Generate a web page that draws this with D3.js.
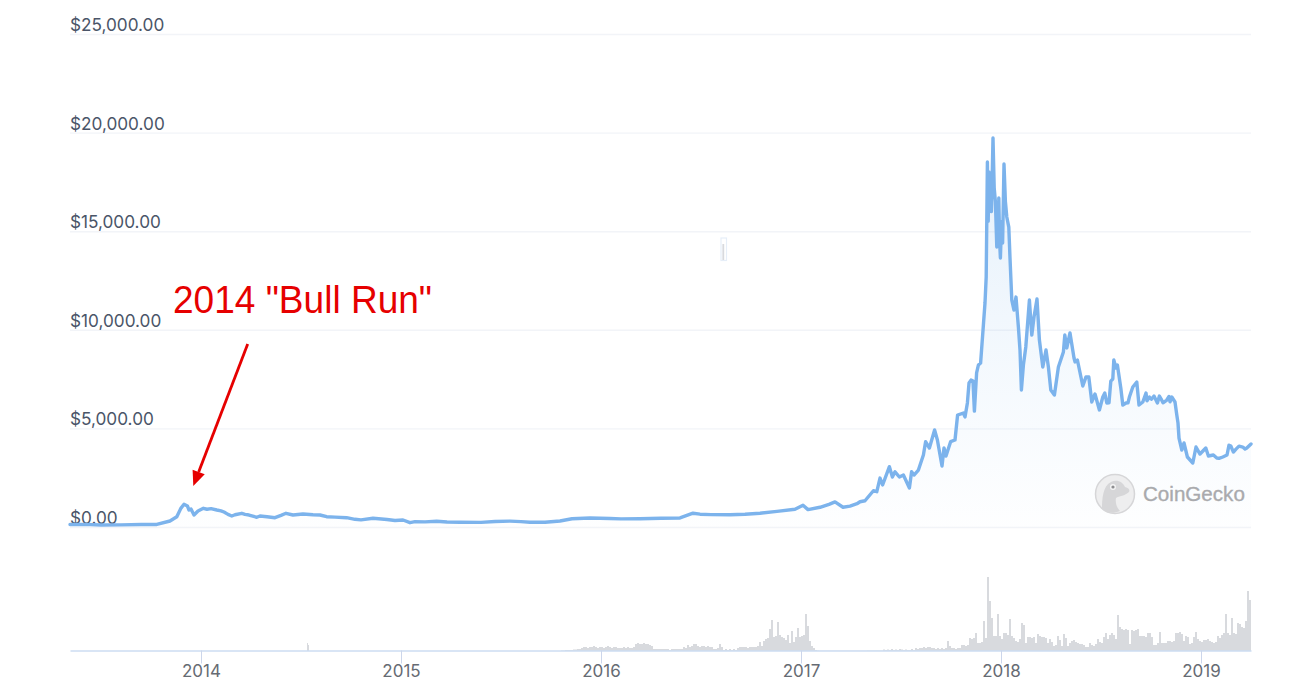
<!DOCTYPE html>
<html>
<head>
<meta charset="utf-8">
<script src="https://cdn.jsdelivr.net/npm/d3@7/dist/d3.min.js"></script>
<style>
html,body{margin:0;padding:0;background:#fff;overflow:hidden}
svg{display:block}
</style>
</head>
<body>
<svg id="chart" width="1296" height="693"></svg>
<script>
const priceYears = [2013.345,2013.6,2013.779,2013.845,2013.879,2013.9,2013.915,2013.932,2013.94,2013.95,2013.965,2013.985,2014.012,2014.079,2014.115,2014.154,2014.204,2014.24,2014.279,2014.295,2014.37,2014.425,2014.46,2014.51,2014.595,2014.628,2014.728,2014.77,2014.86,2015.01,2015.045,2015.07,2015.178,2015.295,2015.545,2015.645,2015.795,2015.855,2015.945,2016.045,2016.195,2016.395,2016.46,2016.495,2016.645,2016.795,2016.97,2017.01,2017.035,2017.095,2017.17,2017.21,2017.245,2017.295,2017.32,2017.362,2017.379,2017.395,2017.408,2017.442,2017.457,2017.47,2017.492,2017.512,2017.542,2017.553,2017.565,2017.587,2017.612,2017.623,2017.642,2017.668,2017.682,2017.705,2017.715,2017.725,2017.748,2017.77,2017.783,2017.812,2017.82,2017.832,2017.84,2017.85,2017.86,2017.867,2017.878,2017.887,2017.898,2017.912,2017.92,2017.926,2017.932,2017.945,2017.96,2017.979,2017.989,2017.997,2018.015,2018.029,2018.039,2018.045,2018.054,2018.065,2018.075,2018.087,2018.095,2018.102,2018.112,2018.124,2018.142,2018.154,2018.165,2018.18,2018.192,2018.209,2018.225,2018.237,2018.249,2018.267,2018.287,2018.312,2018.319,2018.329,2018.345,2018.365,2018.37,2018.382,2018.409,2018.425,2018.439,2018.454,2018.47,2018.492,2018.509,2018.519,2018.529,2018.54,2018.549,2018.559,2018.564,2018.575,2018.582,2018.599,2018.609,2018.625,2018.642,2018.659,2018.679,2018.69,2018.709,2018.725,2018.742,2018.765,2018.782,2018.792,2018.829,2018.854,2018.87,2018.879,2018.885,2018.89,2018.904,2018.915,2018.932,2018.959,2018.975,2018.995,2019.024,2019.037,2019.062,2019.079,2019.109,2019.149,2019.162,2019.209,2019.229,2019.25];
const priceValues = [125,110,130,304,522,960,1151,1065,862,913,608,811,948,862,760,558,695,608,492,558,472,695,608,659,608,522,472,390,441,355,218,269,290,240,300,240,304,416,460,430,420,460,700,650,620,700,900,1100,880,1000,1270,1000,1060,1280,1330,1840,1790,2480,2130,3060,2535,2800,2535,2635,1980,2800,2635,2890,3650,4325,4005,4920,4410,3095,4005,3600,4325,4410,5680,5780,5580,6290,7300,7450,7400,5880,7810,8215,8315,10245,11360,12680,18510,16785,19730,14200,16685,13640,18410,15720,15210,13640,11510,11000,11660,10140,8975,6950,8215,9130,11510,9735,10650,11560,9480,8115,8975,8115,6950,6690,8115,8875,9735,9080,9840,8570,8370,8470,7150,7610,7610,6340,6745,5935,6590,6795,6290,6300,7400,7505,8470,8060,8215,7050,6185,6290,6590,7100,7350,6185,6340,6795,6590,6640,6290,6640,6440,6590,6340,5680,5270,4510,3905,4260,3550,3245,4055,3700,4005,3600,3650,3500,3550,4105,3800,4055,4005,4210];
const detailYears = [2013.42,2013.5,2013.7,2014.03,2014.05,2014.1,2014.135,2014.17,2014.22,2014.33,2014.4,2014.56,2014.67,2014.8,2014.93,2014.97,2015.12,2015.23,2015.4,2015.47,2015.6,2015.72,2016.1,2016.3,2016.55,2016.72,2016.88,2017.14,2017.28,2017.936,2017.94,2017.952,2017.956,2017.966,2017.972,2017.984,2017.987,2017.993,2018.003,2018.008,2018.022,2018.635,2018.73,2018.752,2018.8,2018.81,2018.84,2018.845,2019.09,2019.13,2019.14,2019.175,2019.19,2019.22];
const detailValues = [135,100,125,900,930,820,640,620,640,520,590,620,500,360,380,330,260,250,235,280,270,240,410,440,630,650,790,1150,1180,15500,18000,16000,17800,17200,16500,16000,14800,14500,15500,14400,16500,6300,6400,6480,6500,6300,6620,6350,3480,3650,4150,3950,4100,3950];

const earlyVolumeYears = [2014.53,2014.535];
const earlyVolumeValues = [8,6];
const volumeStartYear = 2015.8;
const volumeStepYears = 0.01;
const volumeValues = [
.5,.5,1,1,1,1,1.5,1.5,2,2,
3,4,4,3,4,4,5,4,3,4,
4,3,4,5,4,3,4,4,3,3,
3,4,3,4,3,3,4,7,8,7,
7,8,7,7,6,5,2,2,2,2,
2,2,2,2,1,2,2,2,2,2,
2,4,3,6,4,5,7,7,5,4,
5,5,4,5,4,4,2,2,3,7,
4,1,2,1,2,1,2,1,3,4,
4,4,4,3,4,4,4,4,5,9,
5,10,12,13,22,31,14,15,29,16,
14,13,11,16,8,20,9,14,23,14,
15,16,37,25,10,5,3,1,.5,.3,
.3,.3,.3,.3,.3,.3,.3,.3,.3,.3,
.3,.3,.3,.3,.3,.3,.3,.3,.3,.3,
.3,.3,.3,.5,.5,.5,.5,.5,.5,.5,
.5,1.5,1,1.5,1,2,1,1.5,1,2,
1.5,1,1.5,1,1,2,1,3,2,3,
3,4,3,4,4,3,3,2,3,2,
3,2,3,10,5,3,3,2,3,3,
6,6,5,6,13,12,13,18,8,8,
9,30,13,74,50,33,15,15,37,15,
12,18,18,16,32,15,13,10,9,12,
28,26,8,14,14,13,14,8,17,15,
14,14,13,8,12,9,5,6,15,11,
5,17,13,5,8,10,11,9,8,7,
7,6,4,4,8,6,5,7,12,9,
8,14,18,12,16,18,16,12,36,24,
22,21,22,21,7,21,20,21,22,15,
15,15,14,18,18,14,6,6,8,19,
8,8,8,10,10,9,10,18,18,19,
17,10,15,14,7,8,14,19,12,10,
9,11,11,12,10,9,8,9,15,13,
16,18,37,18,16,33,18,17,28,27,
24,23,30,60,51];

const priceTicks = [0,5000,10000,15000,20000,25000];
const yearTicks = [2014,2015,2016,2017,2018,2019];
const annotationText = '2014 "Bull Run"';
const arrowFrom = [2014.2335, 9280];
const arrowTo = [2013.9615, 2079];
const logoText = "CoinGecko";

const svg = d3.select("#chart");
const x = d3.scaleLinear().domain([2013.345,2019.25]).range([70,1251]);
const y = d3.scaleLinear().domain([0,25000]).range([527,34]);
const v = d3.scaleLinear().domain([0,76]).range([651,575]);
const sans = "'Liberation Sans',Arial,sans-serif";
const ui = "Inter,'Liberation Sans',sans-serif";

const defs = svg.append("defs");
const grad = defs.append("linearGradient").attr("id","areaFill")
  .attr("gradientUnits","userSpaceOnUse").attr("x1",0).attr("x2",0).attr("y1",y(19730)).attr("y2",y(0));
grad.append("stop").attr("offset",0).attr("stop-color","#7cb5ec").attr("stop-opacity",.2);
grad.append("stop").attr("offset",.6).attr("stop-color","#7cb5ec").attr("stop-opacity",.08);
grad.append("stop").attr("offset",1).attr("stop-color","#7cb5ec").attr("stop-opacity",.01);

const yAxis = d3.axisRight(y).tickValues(priceTicks).tickSize(1181)
  .tickFormat(d=>"$"+d3.format(",.2f")(d));
const gy = svg.append("g").attr("transform","translate(70,0)").call(yAxis);
gy.select(".domain").remove();
gy.selectAll("line").attr("stroke","#f2f4f8").attr("stroke-width",1.4);
gy.selectAll("text").attr("x",0).attr("dy",null).attr("y",-3.5)
  .attr("text-anchor","start").attr("fill","#4a5568")
  .style("font-family",ui).style("font-size","17.2px");

const price = priceYears.map((t,i)=>({t,p:priceValues[i]}))
  .concat(detailYears.map((t,i)=>({t,p:detailValues[i]})))
  .sort((a,b)=>a.t-b.t);
svg.append("path").datum(price).attr("fill","url(#areaFill)")
  .attr("d",d3.area().x(d=>x(d.t)).y0(y(0)).y1(d=>y(d.p)));

const volume = earlyVolumeYears.map((t,i)=>({t,w:0.005,val:earlyVolumeValues[i]}))
  .concat(volumeValues.map((val,i)=>({t:volumeStartYear+i*volumeStepYears,w:volumeStepYears,val})));
svg.append("g").selectAll("rect").data(volume).join("rect")
  .attr("x",d=>x(d.t)).attr("width",d=>x(d.t+d.w)-x(d.t))
  .attr("y",d=>v(d.val)).attr("height",d=>v(0)-v(d.val))
  .attr("fill","#d8dade");

const xAxis = d3.axisBottom(x).tickValues(yearTicks).tickSize(13).tickSizeOuter(0).tickFormat(d3.format("d"));
const gx = svg.append("g").attr("transform","translate(0,650.5)").call(xAxis);
gx.select(".domain").attr("stroke","#ccdcf2").attr("stroke-width",1.6);
gx.selectAll("line").attr("stroke","#ccd6eb");
gx.selectAll("text").attr("y",21.5).attr("dy","0.32em").attr("fill","#666b73")
  .style("font-family",ui).style("font-size","17px");

svg.append("path").datum(price).attr("fill","none").attr("stroke","#7cb3ec")
  .attr("stroke-width",3.4).attr("stroke-linejoin","round").attr("stroke-linecap","round")
  .attr("d",d3.line().x(d=>x(d.t)).y(d=>y(d.p)));

// small selection marker in the middle of the plot
const marker = svg.append("g");
marker.append("rect").attr("x",x(2016.6)).attr("y",y(14655)).attr("width",5.5).attr("height",22.5)
  .attr("fill","#fff").attr("stroke","#e6eef8").attr("stroke-width",1.2);
marker.append("rect").attr("x",x(2016.607)).attr("y",y(14350)).attr("width",1.8).attr("height",16)
  .attr("fill","#d8dade");

// watermark
const logo = svg.append("g").attr("transform","translate(1115,494)");
logo.append("circle").attr("r",19.5).attr("fill","#eeeeef").attr("stroke","#d6d6d8").attr("stroke-width",1.5);
logo.append("path").attr("d","M-13,15 C-13,4 -12,-8 -4,-12 C2,-15 8,-12 10,-7 C14,-6 15,-4 14,-2 C10,2 4,2 1,4 C0,9 2,14 5,17 C-2,20 -9,19 -13,15 Z")
  .attr("fill","#d6d6d8");
logo.append("circle").attr("cx",-2).attr("cy",-7).attr("r",3).attr("fill","#f4f4f4");
logo.append("circle").attr("cx",-2).attr("cy",-7).attr("r",1.6).attr("fill","#8d8d90");
svg.append("text").attr("x",1143).attr("y",500.5).text(logoText)
  .attr("fill","#a9aaad").attr("stroke","#a9aaad").attr("stroke-width",.35)
  .style("font-family",sans).style("font-size","20.6px");

// annotation
const red = "#e60000";
svg.append("text").attr("x",173).attr("y",313).text(annotationText)
  .attr("fill",red).attr("textLength",259).attr("lengthAdjust","spacingAndGlyphs")
  .style("font-family",sans).style("font-size","38px");
const ax0 = x(arrowFrom[0]), ay0 = y(arrowFrom[1]), ax1 = x(arrowTo[0]), ay1 = y(arrowTo[1]);
const ang = Math.atan2(ay1-ay0,ax1-ax0), hl = 15, hw = 6.5;
const bx = ax1-hl*Math.cos(ang), by = ay1-hl*Math.sin(ang);
svg.append("line").attr("x1",ax0).attr("y1",ay0).attr("x2",bx).attr("y2",by)
  .attr("stroke",red).attr("stroke-width",2.8);
svg.append("polygon").attr("fill",red).attr("points",[
  [ax1,ay1],
  [bx-hw*Math.sin(ang),by+hw*Math.cos(ang)],
  [bx+hw*Math.sin(ang),by-hw*Math.cos(ang)]
].map(p=>p.join(",")).join(" "));
</script>
</body>
</html>
